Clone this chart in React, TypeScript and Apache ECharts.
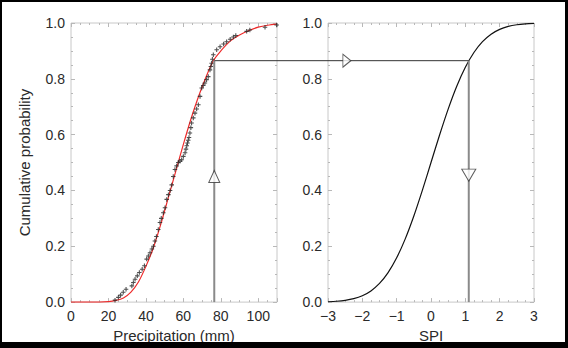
import React, { useEffect, useRef } from "react";
import * as echarts from "echarts";

// Fitted (gamma) cumulative probability curve, left panel
const fitPrecip = [0, 10, 20, 24, 28, 32, 36, 40, 44, 48, 52, 56, 60, 64, 68, 72, 76, 80, 85, 90, 95, 100, 105, 110];
const fitProb = [0, 0, 0.002, 0.006, 0.015, 0.036, 0.072, 0.128, 0.195, 0.28, 0.375, 0.47, 0.565, 0.655, 0.735, 0.805, 0.865, 0.9, 0.935, 0.957, 0.973, 0.985, 0.992, 0.996];

// Observed (empirical) cumulative probabilities, left panel
const obsPrecip = [23.5, 25.3, 26.5, 27.9, 29.4, 32.5, 33.3, 34.2, 35.4, 36.5, 38.0, 39.2, 40.4, 41.3, 42.2, 43.2, 44.0, 44.8, 45.6, 46.6, 47.5, 48.2, 49.3, 50.2, 51.1, 52.0, 52.9, 53.8, 54.6, 55.5, 56.4, 57.3, 58.2, 59.1, 60.0, 60.9, 61.4, 61.8, 62.2, 62.6, 63.0, 63.5, 64.0, 64.4, 65.3, 66.2, 67.1, 68.0, 68.9, 69.8, 70.6, 71.5, 72.4, 73.3, 74.2, 74.7, 75.1, 75.5, 76.0, 77.8, 79.6, 81.5, 83.1, 85.0, 86.7, 88.0, 93.8, 95.5, 103.6, 109.8];
const obsProb = [0.007, 0.017, 0.025, 0.035, 0.046, 0.058, 0.07, 0.082, 0.094, 0.106, 0.118, 0.13, 0.154, 0.165, 0.177, 0.19, 0.2, 0.219, 0.235, 0.26, 0.285, 0.3, 0.32, 0.338, 0.368, 0.385, 0.4, 0.42, 0.45, 0.475, 0.488, 0.5, 0.505, 0.51, 0.522, 0.535, 0.548, 0.56, 0.57, 0.58, 0.59, 0.606, 0.625, 0.642, 0.66, 0.677, 0.692, 0.707, 0.737, 0.767, 0.776, 0.785, 0.797, 0.808, 0.832, 0.844, 0.856, 0.87, 0.886, 0.904, 0.915, 0.925, 0.933, 0.942, 0.95, 0.955, 0.97, 0.975, 0.985, 0.993];

// Standard normal cumulative probability, right panel
const spiValues = [-3, -2.75, -2.5, -2.25, -2, -1.75, -1.5, -1.25, -1, -0.75, -0.5, -0.25, 0, 0.25, 0.5, 0.75, 1, 1.25, 1.5, 1.75, 2, 2.25, 2.5, 2.75, 3];
const spiProb = [0.0013, 0.003, 0.0062, 0.0122, 0.0228, 0.0401, 0.0668, 0.1056, 0.1587, 0.2266, 0.3085, 0.4013, 0.5, 0.5987, 0.6915, 0.7734, 0.8413, 0.8944, 0.9332, 0.9599, 0.9772, 0.9878, 0.9938, 0.997, 0.9987];

// Worked example
const exampleProb = 0.865;
const examplePrecip = 76.5;
const exampleSPI = 1.1;
const arrowUpProb = 0.45;
const arrowRightSPI = -2.45;
const arrowDownProb = 0.455;

const FONT = "'Liberation Sans', Arial, Helvetica, sans-serif";
const TEXT = "#2a2a2a";
const BOX = "#c8c8c8";
const TICK = "#b8b8b8";

function xAxisDef(grid: number, min: number, max: number, interval: number, labels: boolean, name?: string, fmt?: (v: number) => string, nameSize = 15, nameGap = 22) {
  return {
    type: "value",
    gridIndex: grid,
    position: labels ? "bottom" : "top",
    min,
    max,
    interval,
    name: name || "",
    nameLocation: "middle",
    nameGap,
    nameTextStyle: { fontFamily: FONT, fontSize: nameSize, color: TEXT },
    axisLine: { show: false, onZero: false },
    axisTick: { show: true, inside: true, length: 4, lineStyle: { color: TICK } },
    minorTick: { show: true, splitNumber: 4, length: 2, lineStyle: { color: TICK } },
    splitLine: { show: false },
    axisLabel: { show: labels, fontFamily: FONT, fontSize: 14, color: TEXT, margin: 7, formatter: fmt },
  };
}

function yAxisDef(grid: number, labels: boolean, name?: string) {
  return {
    type: "value",
    gridIndex: grid,
    position: labels ? "left" : "right",
    min: 0,
    max: 1,
    interval: 0.2,
    name: name || "",
    nameLocation: "middle",
    nameGap: 39,
    nameRotate: 90,
    nameTextStyle: { fontFamily: FONT, fontSize: 15, color: TEXT },
    axisLine: { show: false, onZero: false },
    axisTick: { show: true, inside: true, length: 4, lineStyle: { color: TICK } },
    minorTick: { show: true, splitNumber: 4, length: 2, lineStyle: { color: TICK } },
    splitLine: { show: false },
    axisLabel: { show: labels, fontFamily: FONT, fontSize: 14, color: TEXT, margin: 6, formatter: (v: number) => v.toFixed(1) },
  };
}

export default function App() {
  const ref = useRef<HTMLDivElement>(null);
  useEffect(() => {
    if (!ref.current) return;
    const chart = echarts.init(ref.current, null, { renderer: "svg" });
    const option: any = {
      animation: false,
      backgroundColor: "#fff",
      grid: [
        { left: 71, top: 23, width: 206, height: 280, show: true, borderColor: BOX, borderWidth: 1 },
        { left: 328, top: 23, width: 206, height: 280, show: true, borderColor: BOX, borderWidth: 1 },
      ],
      xAxis: [
        xAxisDef(0, 0, 110, 20, true, "Precipitation (mm)", undefined, 15, 22),
        xAxisDef(0, 0, 110, 20, false),
        xAxisDef(1, -3, 3, 1, true, "SPI", (v: number) => (v < 0 ? "\u2212" + Math.abs(v) : String(v)), 15, 17),
        xAxisDef(1, -3, 3, 1, false),
      ],
      yAxis: [yAxisDef(0, true, "Cumulative probability"), yAxisDef(0, false), yAxisDef(1, true), yAxisDef(1, false)],
      series: [
        {
          type: "line",
          xAxisIndex: 0,
          yAxisIndex: 0,
          data: fitPrecip.map((x, i) => [x, fitProb[i]]),
          smooth: 0.3,
          showSymbol: false,
          lineStyle: { color: "#ee2b2b", width: 1.2 },
          z: 3,
        },
        {
          type: "scatter",
          xAxisIndex: 0,
          yAxisIndex: 0,
          data: obsPrecip.map((x, i) => [x, obsProb[i]]),
          symbol: "path://M1.9,0H3.1V5H1.9Z M0,1.9H5V3.1H0Z",
          symbolSize: 4.5,
          itemStyle: { color: "#222" },
          z: 4,
        },
        {
          type: "line",
          xAxisIndex: 0,
          yAxisIndex: 0,
          data: [
            [examplePrecip, 0],
            [examplePrecip, exampleProb],
          ],
          showSymbol: false,
          lineStyle: { color: "#8a8a8a", width: 2 },
          z: 5,
        },
        {
          type: "line",
          xAxisIndex: 2,
          yAxisIndex: 2,
          data: spiValues.map((x, i) => [x, spiProb[i]]),
          smooth: 0.3,
          showSymbol: false,
          lineStyle: { color: "#111", width: 1.2 },
          z: 3,
        },
        {
          type: "line",
          xAxisIndex: 2,
          yAxisIndex: 2,
          data: [
            [exampleSPI, exampleProb],
            [exampleSPI, 0],
          ],
          showSymbol: false,
          lineStyle: { color: "#8a8a8a", width: 2 },
          z: 5,
        },
        {
          type: "scatter",
          xAxisIndex: 0,
          yAxisIndex: 0,
          data: [[examplePrecip, arrowUpProb]],
          symbol: "triangle",
          symbolSize: [11, 12],
          itemStyle: { color: "#fff", borderColor: "#333", borderWidth: 1 },
          z: 10,
        },
        {
          type: "scatter",
          xAxisIndex: 2,
          yAxisIndex: 2,
          data: [[arrowRightSPI, exampleProb]],
          symbol: "triangle",
          symbolSize: [13, 8],
          symbolRotate: -90,
          itemStyle: { color: "#fff", borderColor: "#333", borderWidth: 1 },
          z: 10,
        },
        {
          type: "scatter",
          xAxisIndex: 2,
          yAxisIndex: 2,
          data: [[exampleSPI, arrowDownProb]],
          symbol: "triangle",
          symbolSize: [14, 12],
          symbolRotate: 180,
          itemStyle: { color: "#fff", borderColor: "#333", borderWidth: 1 },
          z: 10,
        },
      ],
    };
    chart.setOption(option);
    const a = chart.convertToPixel({ xAxisIndex: 0, yAxisIndex: 0 } as any, [examplePrecip, exampleProb]) as number[];
    const b = chart.convertToPixel({ xAxisIndex: 2, yAxisIndex: 2 } as any, [exampleSPI, exampleProb]) as number[];
    chart.setOption({
      graphic: [
        { type: "line", shape: { x1: a[0], y1: a[1], x2: b[0], y2: b[1] }, style: { stroke: "#333", lineWidth: 1 }, z: 6 },
        { type: "rect", shape: { x: 0, y: 0, width: 568, height: 2 }, style: { fill: "#000" }, z: 20 },
        { type: "rect", shape: { x: 0, y: 0, width: 2, height: 348 }, style: { fill: "#000" }, z: 20 },
        { type: "rect", shape: { x: 565, y: 0, width: 3, height: 348 }, style: { fill: "#000" }, z: 20 },
        { type: "rect", shape: { x: 0, y: 342, width: 568, height: 6 }, style: { fill: "#000" }, z: 20 },
      ],
    });
    return () => chart.dispose();
  }, []);
  return (
    <div style={{ position: "fixed", left: 0, top: 0, width: 568, height: 348, background: "#fff" }}>
      <div ref={ref} style={{ width: 568, height: 348 }} />
    </div>
  );
}
